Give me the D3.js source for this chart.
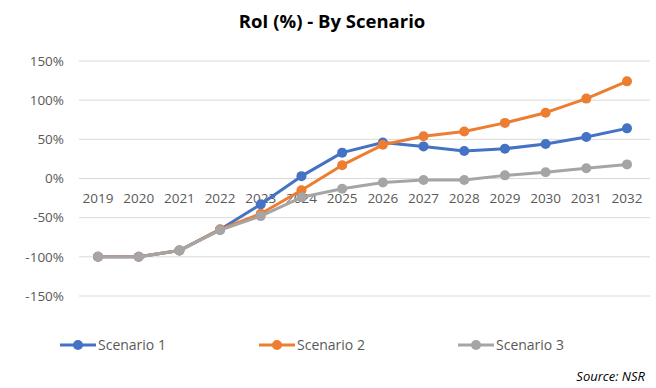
<!DOCTYPE html>
<html>
<head>
<meta charset="utf-8">
<script src="https://cdn.jsdelivr.net/npm/d3@7"></script>
<style>
  body { margin: 0; background: #fff; }
  svg { display: block; font-family: "Open Sans", "Liberation Sans", sans-serif; }
</style>
</head>
<body>
<div id="chart"></div>
<script>
const years = ['2019', '2020', '2021', '2022', '2023', '2024', '2025', '2026', '2027', '2028', '2029', '2030', '2031', '2032'];
const scenario1 = [-100, -100, -92, -65, -33, 3, 33, 46, 41, 35, 38, 44, 53, 64];
const scenario2 = [-100, -100, -92, -65, -45, -15, 17, 43, 54, 60, 71, 84, 102, 124];
const scenario3 = [-100, -100, -92, -66, -48, -24, -13, -5, -2, -2, 4, 8, 13, 18];
const yTicks = [-150, -100, -50, 0, 50, 100, 150];
const seriesNames = ['Scenario 1', 'Scenario 2', 'Scenario 3'];
const colors = ['#4472C4', '#ED7D31', '#A5A5A5'];

const width = 656, height = 388;
const svg = d3.select('#chart').append('svg').attr('width', width).attr('height', height);

const x = d3.scalePoint(years, [98, 627]);
const y = d3.scaleLinear([-150, 150], [296, 61]);

svg.append('text').attr('x', 332).attr('y', 28).attr('text-anchor', 'middle')
  .attr('font-size', 18.5).attr('font-weight', 'bold').attr('fill', '#000').text('RoI (%) - By Scenario');

// gridlines
svg.append('g').selectAll('line').data(yTicks).join('line')
  .attr('x1', 79).attr('x2', 650).attr('y1', (d) => y(d)).attr('y2', (d) => y(d))
  .attr('stroke', '#D9D9D9').attr('stroke-width', 1);

// y labels
svg.append('g').selectAll('text').data(yTicks).join('text')
  .attr('x', 64).attr('y', (d) => y(d)).attr('dy', '0.35em').attr('text-anchor', 'end')
  .attr('font-size', 13.5).attr('fill', '#595959').text((d) => d + '%');

// x labels just under the zero line
svg.append('g').selectAll('text').data(years).join('text')
  .attr('x', (d) => x(d)).attr('y', y(0) + 20).attr('dy', '0.35em').attr('text-anchor', 'middle')
  .attr('font-size', 13.5).attr('fill', '#595959').text((d) => d);

const all = [scenario1, scenario2, scenario3];
const line = d3.line().x((d, i) => x(years[i])).y((d) => y(d));
all.forEach((vals, k) => {
  const g = svg.append('g');
  g.append('path').datum(vals).attr('d', line).attr('fill', 'none')
    .attr('stroke', colors[k]).attr('stroke-width', 3).attr('stroke-linejoin', 'round');
  g.selectAll('circle').data(vals).join('circle')
    .attr('cx', (d, i) => x(years[i])).attr('cy', (d) => y(d)).attr('r', 5).attr('fill', colors[k]);
});

// legend
const legendX = [60, 259, 458];
const lg = svg.append('g').selectAll('g').data(seriesNames).join('g')
  .attr('transform', (d, i) => `translate(${legendX[i]},345)`);
lg.append('line').attr('x1', 0).attr('x2', 36).attr('stroke', (d, i) => colors[i]).attr('stroke-width', 3);
lg.append('circle').attr('cx', 18).attr('r', 5).attr('fill', (d, i) => colors[i]);
lg.append('text').attr('x', 38).attr('dy', '0.35em').attr('font-size', 14).attr('fill', '#595959').text((d) => d);

svg.append('text').attr('x', 645).attr('y', 381).attr('text-anchor', 'end')
  .attr('font-size', 13).attr('font-style', 'italic').attr('fill', '#000').text('Source: NSR');
</script>
</body>
</html>
